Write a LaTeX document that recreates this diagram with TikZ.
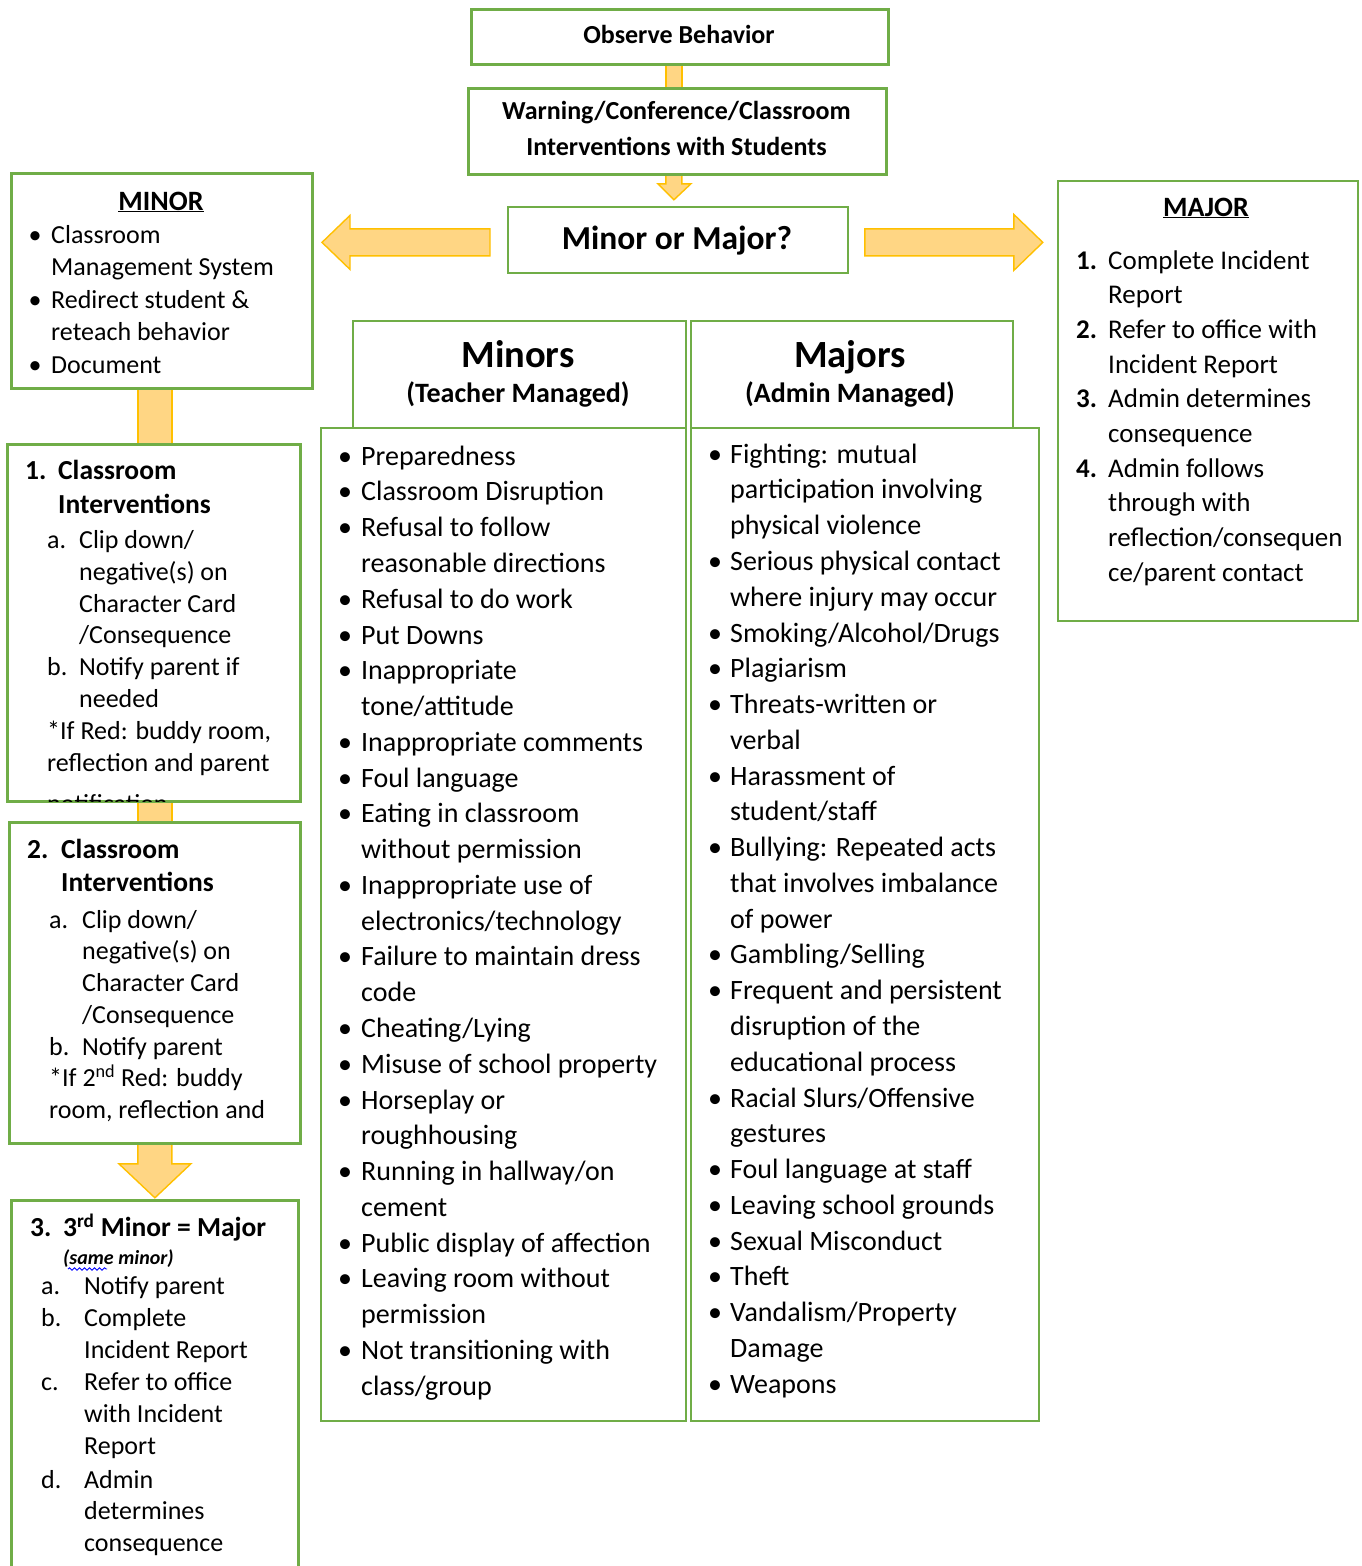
\documentclass[tikz,border=0pt]{standalone}
\usepackage{fontspec}
\setmainfont{Carlito}
\usetikzlibrary{calc,decorations.pathmorphing}
\definecolor{grn}{RGB}{112,173,71}
\definecolor{arrfill}{RGB}{255,214,132}
\definecolor{arrdraw}{RGB}{255,192,0}
\newcommand{\strt}{\rule{0pt}{24pt}}
\newcommand{\bl}[2][22pt]{\makebox[#1][l]{\textbullet}#2}
\newcommand{\cl}[2][22pt]{\hspace*{#1}#2}
\newcommand{\nm}[3][32pt]{\makebox[#1][l]{\bfseries #2}#3}
\begin{document}
\begin{tikzpicture}[x=1pt,y=-1pt,
  box/.style={draw=grn, line width=1.8pt, inner sep=0pt, anchor=north west},
  blk/.style={fill=arrfill, draw=arrdraw, line width=1.4pt, line join=miter},
  tb/.style={inner sep=0pt, anchor=north west, align=left},
  ctr/.style={inner sep=0pt, anchor=base}]
\useasboundingbox (0,0) rectangle (1362,1566);
\fill[white] (0,0) rectangle (1362,1566);
\clip (0,0) rectangle (1362,1566);

% ---------- boxes ----------
\node[box, minimum width=416pt, minimum height=54pt] (obs) at (471,9) {};
\node[box, minimum width=417pt, minimum height=85pt] (warn) at (468,88) {};
\node[box, minimum width=340pt, minimum height=66pt] (mm) at (507,206) {};
\node[box, minimum width=300pt, minimum height=214pt] (minor) at (11,173) {};
\node[box, minimum width=292pt, minimum height=356pt] (c1) at (7,444) {};
\node[box, minimum width=290pt, minimum height=320pt] (c2) at (9,822) {};
\node[box, minimum width=286pt, minimum height=420pt] (c3) at (11,1200) {};
\node[box, minimum width=333pt, minimum height=107pt] (minh) at (352,320) {};
\node[box, minimum width=322pt, minimum height=107pt] (majh) at (690,320) {};
\node[box, minimum width=365pt, minimum height=993pt] (minl) at (320,427) {};
\node[box, minimum width=348pt, minimum height=993pt] (majl) at (690,427) {};
\node[box, minimum width=300pt, minimum height=440pt] (major) at (1057,180) {};

% ---------- block connectors ----------
\draw[blk] ($(obs.south)+(-14,0)$) rectangle ($(warn.north)+(4.5,0)$);
\begin{scope}[shift={(warn.south)}]
  \draw[blk] (-11.5,0) -- (4.5,0) -- (4.5,9) -- (13.5,9) -- (-3.5,25) -- (-19.5,9) -- (-11.5,9) -- cycle;
\end{scope}
\begin{scope}[shift={(mm.west)}]
  \draw[blk] (-17,-11) -- (-157,-11) -- (-157,-24.5) -- (-185,2.5) -- (-157,29.5) -- (-157,16) -- (-17,16) -- cycle;
\end{scope}
\begin{scope}[shift={(mm.east)}]
  \draw[blk] (16,-11) -- (165,-11) -- (165,-25.5) -- (194,2.5) -- (165,30.5) -- (165,16) -- (16,16) -- cycle;
\end{scope}
\draw[blk] ($(minor.south)+(-24,0)$) rectangle ($(c1.north)+(18,0)$);
\draw[blk] ($(c1.south)+(-16,0)$) rectangle ($(c2.north)+(17,0)$);
\begin{scope}[shift={(c2.south)}]
  \draw[blk] (-17,0) -- (17,0) -- (17,20) -- (36,20) -- (0,54) -- (-36,20) -- (-17,20) -- cycle;
\end{scope}

% redraw box borders on top of connectors
\foreach \b in {obs,warn,minor,c1,c2,c3}
  \draw[grn, line width=1.8pt] (\b.north west) rectangle (\b.south east);

% ---------- top texts ----------
\node[ctr, font=\bfseries\fontsize{26}{34}\selectfont] (tobs) at (679,43) {Observe Behavior};
\node[inner sep=0pt, anchor=north, align=center, font=\bfseries\fontsize{26}{36.5}\selectfont] (twarn) at (676.5,95) {\strt Warning/Conference/Classroom\\Interventions with Students};
\node[ctr, font=\bfseries\fontsize{33.5}{40}\selectfont] (tmm) at (677,249) {Minor or Major?};

% ---------- MINOR box ----------
\node[ctr, font=\bfseries\fontsize{28}{34}\selectfont] (tminor) at (161,210) {\underline{MINOR}};
\node[tb, font=\fontsize{26}{32.5}\selectfont] (lminor) at (28.5,219) {\strt\bl[22.5pt]{Classroom}\\\cl[22.5pt]{Management System}\\\bl[22.5pt]{Redirect student \&}\\\cl[22.5pt]{reteach behavior}\\\bl[22.5pt]{Document}};

% ---------- box 1 ----------
\node[tb, font=\bfseries\fontsize{27.5}{34}\selectfont] (t1) at (25,455) {\strt\nm[33pt]{1.}{Classroom}\\\cl[33pt]{Interventions}};
\begin{scope}
  \clip (c1.north west) rectangle (c1.south east);
  \node[tb, font=\fontsize{26}{31.9}\selectfont] (s1) at (47,524) {\strt\makebox[32pt][l]{a.}Clip down/\\\cl[32pt]{negative(s) on}\\\cl[32pt]{Character Card}\\\cl[32pt]{/Consequence}\\\makebox[32pt][l]{b.}Notify parent if\\\cl[32pt]{needed}\\{*}If Red: buddy room,\\reflection and parent\\[9pt]notification};
\end{scope}

% ---------- box 2 ----------
\node[tb, font=\bfseries\fontsize{27.5}{33}\selectfont] (t2) at (27,834) {\strt\nm[34pt]{2.}{Classroom}\\\cl[34pt]{Interventions}};
\node[tb, font=\fontsize{26}{31.7}\selectfont] (s2) at (49,904) {\strt\makebox[33pt][l]{a.}Clip down/\\\cl[33pt]{negative(s) on}\\\cl[33pt]{Character Card}\\\cl[33pt]{/Consequence}\\\makebox[33pt][l]{b.}Notify parent\\{*}If 2\textsuperscript{nd} Red: buddy\\room, reflection and};

% ---------- box 3 ----------
\node[tb, font=\bfseries\fontsize{27.5}{33}\selectfont] (t3) at (30,1212) {\strt\nm[33pt]{3.}{3\textsuperscript{rd} Minor = Major}};
\node[anchor=base west, inner sep=0pt, font=\bfseries\itshape\fontsize{20}{24}\selectfont] (tsame) at (63,1264) {(same minor)};
\draw[blue, line width=0.9pt, decorate, decoration={snake, amplitude=1.2pt, segment length=5pt}] ($(tsame.base west)+(5,5)$) -- ($(tsame.base west)+(44,5)$);
\node[tb, font=\fontsize{26}{32}\selectfont] (s3a) at (41,1270) {\strt\makebox[43pt][l]{a.}Notify parent\\\makebox[43pt][l]{b.}Complete\\\cl[43pt]{Incident Report}\\\makebox[43pt][l]{c.}Refer to office\\\cl[43pt]{with Incident}\\\cl[43pt]{Report}};
\node[tb, font=\fontsize{26}{31.5}\selectfont] (s3d) at (41,1464) {\strt\makebox[43pt][l]{d.}Admin\\\cl[43pt]{determines}\\\cl[43pt]{consequence}};

% ---------- headers ----------
\node[ctr, font=\bfseries\fontsize{38.5}{44}\selectfont] (tminors) at (518,367) {Minors};
\node[ctr, font=\bfseries\fontsize{28}{34}\selectfont] (tminorsub) at (518,402) {(Teacher Managed)};
\node[ctr, font=\bfseries\fontsize{38.5}{44}\selectfont] (tmajors) at (850,367) {Majors};
\node[ctr, font=\bfseries\fontsize{28}{34}\selectfont] (tmajorsub) at (850,402) {(Admin Managed)};

% ---------- minors list ----------
\node[tb, font=\fontsize{28}{35.77}\selectfont] (lminors) at (338,441) {\strt\bl[23pt]{Preparedness}\\
\bl[23pt]{Classroom Disruption}\\
\bl[23pt]{Refusal to follow}\\
\cl[23pt]{reasonable directions}\\
\bl[23pt]{Refusal to do work}\\
\bl[23pt]{Put Downs}\\
\bl[23pt]{Inappropriate}\\
\cl[23pt]{tone/attitude}\\
\bl[23pt]{Inappropriate comments}\\
\bl[23pt]{Foul language}\\
\bl[23pt]{Eating in classroom}\\
\cl[23pt]{without permission}\\
\bl[23pt]{Inappropriate use of}\\
\cl[23pt]{electronics/technology}\\
\bl[23pt]{Failure to maintain dress}\\
\cl[23pt]{code}\\
\bl[23pt]{Cheating/Lying}\\
\bl[23pt]{Misuse of school property}\\
\bl[23pt]{Horseplay or}\\
\cl[23pt]{roughhousing}\\
\bl[23pt]{Running in hallway/on}\\
\cl[23pt]{cement}\\
\bl[23pt]{Public display of affection}\\
\bl[23pt]{Leaving room without}\\
\cl[23pt]{permission}\\
\bl[23pt]{Not transitioning with}\\
\cl[23pt]{class/group}};

% ---------- majors list ----------
\node[tb, font=\fontsize{28}{35.77}\selectfont] (lmajors) at (708,439) {\strt\bl{Fighting: mutual}\\
\cl{participation involving}\\
\cl{physical violence}\\
\bl{Serious physical contact}\\
\cl{where injury may occur}\\
\bl{Smoking/Alcohol/Drugs}\\
\bl{Plagiarism}\\
\bl{Threats-written or}\\
\cl{verbal}\\
\bl{Harassment of}\\
\cl{student/staff}\\
\bl{Bullying: Repeated acts}\\
\cl{that involves imbalance}\\
\cl{of power}\\
\bl{Gambling/Selling}\\
\bl{Frequent and persistent}\\
\cl{disruption of the}\\
\cl{educational process}\\
\bl{Racial Slurs/Offensive}\\
\cl{gestures}\\
\bl{Foul language at staff}\\
\bl{Leaving school grounds}\\
\bl{Sexual Misconduct}\\
\bl{Theft}\\
\bl{Vandalism/Property}\\
\cl{Damage}\\
\bl{Weapons}};

% ---------- MAJOR box ----------
\node[ctr, font=\bfseries\fontsize{28}{34}\selectfont] (tmajor) at (1206,216) {\underline{MAJOR}};
\node[tb, font=\fontsize{27}{34.67}\selectfont] (lmajor) at (1076,245) {\strt\nm{1.}{Complete Incident}\\
\cl[32pt]{Report}\\
\nm{2.}{Refer to office with}\\
\cl[32pt]{Incident Report}\\
\nm{3.}{Admin determines}\\
\cl[32pt]{consequence}\\
\nm{4.}{Admin follows}\\
\cl[32pt]{through with}\\
\cl[32pt]{reflection/consequen}\\
\cl[32pt]{ce/parent contact}};
\end{tikzpicture}
\end{document}
